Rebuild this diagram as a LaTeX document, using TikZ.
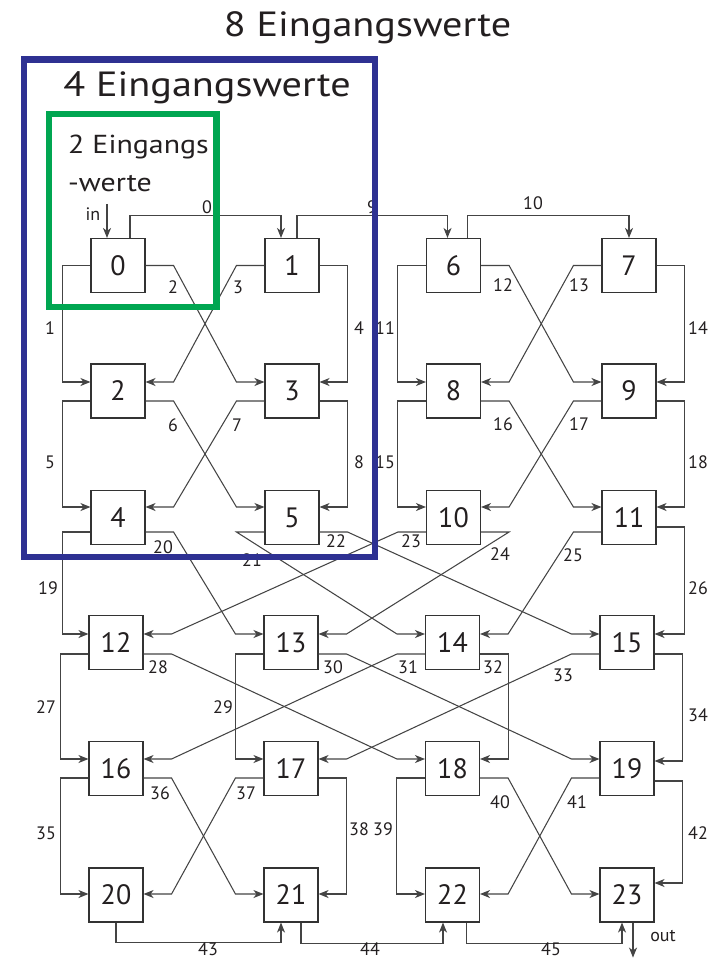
\documentclass[tikz,border=0pt]{standalone}
\usepackage{fontspec}
\setmainfont{PT Sans}
\newfontfamily\widefont[FakeStretch=1.15]{PT Sans}
\usetikzlibrary{arrows.meta,calc}

\definecolor{wirec}{HTML}{444444}
\definecolor{boxc}{HTML}{333333}
\definecolor{txt}{HTML}{231F20}
\definecolor{frameblue}{HTML}{2E3192}
\definecolor{framegreen}{HTML}{00A651}

\tikzset{
  blk/.style={draw=boxc, line width=1.1pt, minimum width=54pt, minimum height=54pt,
    inner sep=0pt, font=\fontsize{28}{28}\selectfont, text=txt},
  wire/.style={draw=wirec, line width=1.05pt},
  arr/.style={wire, -{Stealth[length=10pt,width=8pt,inset=3pt]}},
  lbl/.style={font=\fontsize{18}{18}\selectfont, text=txt, inner sep=0pt},
  title/.style={font=\widefont\fontsize{35}{35}\selectfont, text=txt, inner sep=0pt, anchor=base},
  frame/.style={line width=6.5pt},
}

% crossing link: exit east, stub, diagonal, enter west
\newcommand\linkER[4]{\draw[arr] ([yshift=#2pt]#1.east) -- ++(28,0)
  -- ([xshift=-28pt,yshift=#4pt]#3.west) -- ([yshift=#4pt]#3.west);}
% crossing link: exit west, stub, diagonal, enter east
\newcommand\linkWL[4]{\draw[arr] ([yshift=#2pt]#1.west) -- ++(-28,0)
  -- ([xshift=28pt,yshift=#4pt]#3.east) -- ([yshift=#4pt]#3.east);}
% crossing link: exit west, stub, diagonal, enter west
\newcommand\linkWR[4]{\draw[arr] ([yshift=#2pt]#1.west) -- ++(-28,0)
  -- ([xshift=-28pt,yshift=#4pt]#3.west) -- ([yshift=#4pt]#3.west);}
% crossing link: exit east, stub, diagonal, enter east
\newcommand\linkEL[4]{\draw[arr] ([yshift=#2pt]#1.east) -- ++(28,0)
  -- ([xshift=28pt,yshift=#4pt]#3.east) -- ([yshift=#4pt]#3.east);}
% outer link on the left side
\newcommand\linkSL[4]{\draw[arr] ([yshift=#2pt]#1.west) -- ++(-28,0) |- ([yshift=#4pt]#3.west);}
% outer link on the right side
\newcommand\linkSR[4]{\draw[arr] ([yshift=#2pt]#1.east) -- ++(28,0) |- ([yshift=#4pt]#3.east);}

\begin{document}
\begin{tikzpicture}[x=1pt,y=-1pt]
\useasboundingbox[fill=white] (0,0) rectangle (719,960);

% butterfly stages
\node[blk] (b0)  at (118,265.5) {0};
\node[blk] (b1)  at (292,265.5) {1};
\node[blk] (b6)  at (453.5,265.5) {6};
\node[blk] (b7)  at (629,265.5) {7};
\node[blk] (b2)  at (118,391) {2};
\node[blk] (b3)  at (292,391) {3};
\node[blk] (b8)  at (453.5,391) {8};
\node[blk] (b9)  at (629,391) {9};
\node[blk] (b4)  at (118,517.5) {4};
\node[blk] (b5)  at (292,517.5) {5};
\node[blk] (b10) at (453.5,517.5) {10};
\node[blk] (b11) at (629,517.5) {11};
\node[blk] (b12) at (116,642.5) {12};
\node[blk] (b13) at (291,642.5) {13};
\node[blk] (b14) at (452.5,642.5) {14};
\node[blk] (b15) at (627,642.5) {15};
\node[blk] (b16) at (116,768.5) {16};
\node[blk] (b17) at (291,768.5) {17};
\node[blk] (b18) at (452.5,768.5) {18};
\node[blk] (b19) at (627,768.5) {19};
\node[blk] (b20) at (116,895) {20};
\node[blk] (b21) at (291,895) {21};
\node[blk] (b22) at (452.5,895) {22};
\node[blk] (b23) at (627,895) {23};

% input and top links
\coordinate (inpt) at ([xshift=-11pt,yshift=34pt]b0.north);
\draw[arr] (inpt) -- ([xshift=-11pt]b0.north);
\draw[arr] ([xshift=12pt]b0.north) -- ++(0,-22) -| ([xshift=-11pt]b1.north);
\draw[arr] ([xshift=5pt]b1.north) -- ++(0,-22) -| ([xshift=-6pt]b6.north);
\draw[arr] ([xshift=14pt]b6.north) -- ++(0,-22) -| (b7.north);

% stage 0 -> 1
\linkSL{b0}{0}{b2}{9}
\linkER{b0}{0}{b3}{9}
\linkWL{b1}{0}{b2}{9}
\linkSR{b1}{0}{b3}{9}
\linkSL{b6}{0}{b8}{9}
\linkER{b6}{0}{b9}{9}
\linkWL{b7}{0}{b8}{9}
\linkSR{b7}{0}{b9}{9}

% stage 1 -> 2
\linkSL{b2}{-10}{b4}{10.5}
\linkER{b2}{-10}{b5}{10.5}
\linkWL{b3}{-10}{b4}{10.5}
\linkSR{b3}{-10}{b5}{10.5}
\linkSL{b8}{-10}{b10}{10.5}
\linkER{b8}{-10}{b11}{10.5}
\linkWL{b9}{-10}{b10}{10.5}
\linkSR{b9}{-10}{b11}{10.5}

% stage 2 -> 3
\linkSL{b4}{-14.5}{b12}{8.5}
\linkER{b4}{-14.5}{b13}{8.5}
\linkWR{b5}{-14.5}{b14}{8.5}
\linkER{b5}{-14.5}{b15}{8.5}
\linkWL{b10}{-14.5}{b12}{8.5}
\linkEL{b10}{-14.5}{b13}{8.5}
\linkWL{b11}{-14.5}{b14}{8.5}
\linkSR{b11}{-9.5}{b15}{8.5}

% stage 3 -> 4
\linkSL{b12}{-11.5}{b16}{9.5}
\linkER{b12}{-11.5}{b18}{9.5}
\linkSL{b13}{-11.5}{b17}{9.5}
\linkER{b13}{-11.5}{b19}{9.5}
\linkWL{b14}{-11.5}{b16}{9.5}
\linkSR{b14}{-11.5}{b18}{9.5}
\linkWL{b15}{-11.5}{b17}{9.5}
\linkSR{b15}{-11.5}{b19}{7.5}

% stage 4 -> 5
\linkSL{b16}{-9.5}{b20}{1}
\linkER{b16}{-9.5}{b21}{1}
\linkWL{b17}{-9.5}{b20}{1}
\linkSR{b17}{-9.5}{b21}{1}
\linkSL{b18}{-9.5}{b22}{1}
\linkER{b18}{-9.5}{b23}{1}
\linkWL{b19}{-9.5}{b22}{1}
\linkSR{b19}{-12.5}{b23}{12}

% bottom links and output
\draw[arr] (b20.south) -- ++(0,20) -| ([xshift=-10pt]b21.south);
\draw[arr] ([xshift=10pt]b21.south) -- ++(0,21) -| ([xshift=-9.5pt]b22.south);
\draw[arr] ([xshift=14pt]b22.south) -- ++(0,21) -| ([xshift=-5pt]b23.south);
\coordinate (outpt) at ([xshift=6pt,yshift=-35pt]b23.south);
\draw[arr] ([xshift=6pt]b23.south) -- (outpt);

% edge numbers
\node[lbl] (in)  at (93,214) {in};
\node[lbl] (out) at (663,936) {out};
\node[lbl] (l0)  at (207,207) {0};
\node[lbl] (l1)  at (50,328) {1};
\node[lbl] (l2)  at (173,287) {2};
\node[lbl] (l3)  at (238,287) {3};
\node[lbl] (l4)  at (359,328) {4};
\node[lbl] (l5)  at (50,462) {5};
\node[lbl] (l6)  at (173,425) {6};
\node[lbl] (l7)  at (237,425) {7};
\node[lbl] (l8)  at (359,462) {8};
\node[lbl] (l9)  at (372,207) {9};
\node[lbl] (l10) at (533,203) {10};
\node[lbl] (l11) at (385,328) {11};
\node[lbl] (l12) at (503,285) {12};
\node[lbl] (l13) at (579,285) {13};
\node[lbl] (l14) at (698,328) {14};
\node[lbl] (l15) at (385,462) {15};
\node[lbl] (l16) at (503,424) {16};
\node[lbl] (l17) at (579,424) {17};
\node[lbl] (l18) at (698,462) {18};
\node[lbl] (l19) at (48,588) {19};
\node[lbl] (l20) at (163,547) {20};
\node[lbl] (l21) at (252,560) {21};
\node[lbl] (l22) at (336,541) {22};
\node[lbl] (l23) at (411,541) {23};
\node[lbl] (l24) at (500,554) {24};
\node[lbl] (l25) at (573,555) {25};
\node[lbl] (l26) at (698,588) {26};
\node[lbl] (l27) at (46,707) {27};
\node[lbl] (l28) at (158,667) {28};
\node[lbl] (l29) at (223,707) {29};
\node[lbl] (l30) at (333,667) {30};
\node[lbl] (l31) at (408,667) {31};
\node[lbl] (l32) at (493,667) {32};
\node[lbl] (l33) at (563,675) {33};
\node[lbl] (l34) at (698,715) {34};
\node[lbl] (l35) at (46,833) {35};
\node[lbl] (l36) at (160,793) {36};
\node[lbl] (l37) at (246,793) {37};
\node[lbl] (l38) at (359,829) {38};
\node[lbl] (l39) at (383,829) {39};
\node[lbl] (l40) at (500,802) {40};
\node[lbl] (l41) at (577,802) {41};
\node[lbl] (l42) at (698,833) {42};
\node[lbl] (l43) at (208,949) {43};
\node[lbl] (l44) at (370,949) {44};
\node[lbl] (l45) at (551,949) {45};

% titles
\node[title] (t8) at (367.5,37) {8 Eingangswerte};
\node[title] (t4) at (207,97) {4 Eingangswerte};
\node[title, anchor=base west, font=\widefont\fontsize{26}{26}\selectfont] (t2a) at (68,154) {2 Eingangs};
\node[title, anchor=base west, font=\widefont\fontsize{26}{26}\selectfont] (t2b) at (68,191) {-werte};

% grouping frames
\draw[frame, draw=frameblue] (24,59.5) rectangle (375,557);
\draw[frame, draw=framegreen] (49,114) rectangle (216.5,307);
\end{tikzpicture}
\end{document}
